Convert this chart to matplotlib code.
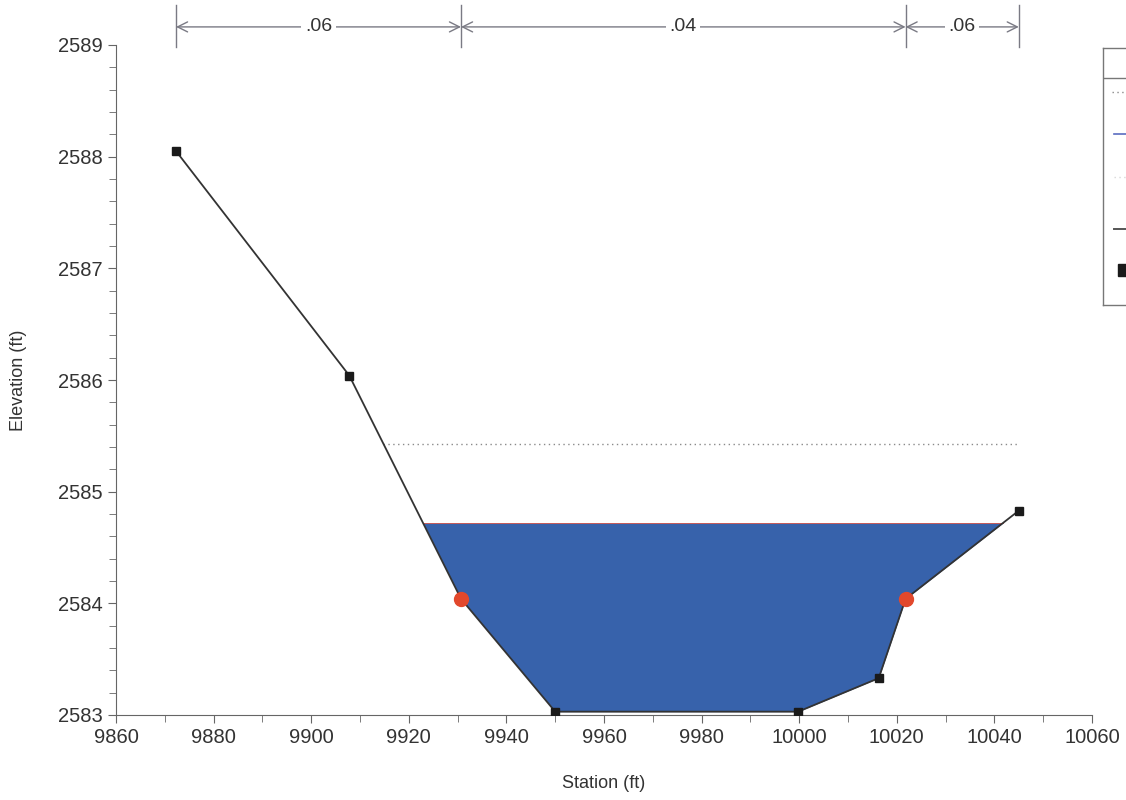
#!/usr/bin/env python3
"""Cross section plot: ground profile, water surface, energy grade and n-value regions."""

import numpy as np
import matplotlib
matplotlib.use("Agg")
import matplotlib.pyplot as plt
from matplotlib.ticker import MultipleLocator
import matplotlib.transforms as mtransforms

plt.rcParams["font.family"] = ["Liberation Sans", "DejaVu Sans"]

# ground profile (station ft, elevation ft)
STATION = [9872.3, 9907.8, 9930.7, 9950.0, 9999.8, 10016.3, 10021.8, 10045.0]
ELEV = [2588.05, 2586.04, 2584.04, 2583.03, 2583.03, 2583.33, 2584.04, 2584.83]
BANK_STA = [9930.7, 10021.8]
BANK_ELEV = [2584.04, 2584.04]

WS_ELEV = 2584.72
EG_ELEV = 2585.43
EG_STA = [9914.7, 10045.0]

# Manning's n regions
N_BOUNDS = [9872.3, 9930.7, 10021.8, 10045.0]
N_VALUES = [".06", ".04", ".06"]

GROUND_C = "#333333"
WATER_C = "#3762ab"
BANK_C = "#e2482c"
DIM_C = "#7a7a84"

fig = plt.figure(figsize=(11.26, 8.0), dpi=100)
ax = fig.add_axes([116 / 1126, 1 - 715 / 800, 976 / 1126, 670 / 800])

sta = np.array(STATION)
elev = np.array(ELEV)
ax.fill_between(sta, elev, WS_ELEV, where=elev <= WS_ELEV, interpolate=True,
                color=WATER_C, linewidth=0, zorder=1)

# thin water surface edge
ws_lo = np.interp(WS_ELEV, elev[1:3][::-1], sta[1:3][::-1])
ws_hi = np.interp(WS_ELEV, elev[6:8], sta[6:8])
ax.plot([ws_lo, ws_hi], [WS_ELEV, WS_ELEV], color="#c45a5a", lw=0.7, zorder=2)

ax.plot(EG_STA, [EG_ELEV, EG_ELEV], color="#8a8a8a", lw=1.0,
        linestyle=(0, (1, 2.5)), zorder=2)

ax.plot(sta, elev, color=GROUND_C, lw=1.3, zorder=3)
sq = [s not in BANK_STA for s in STATION]
ax.plot(sta[sq], elev[sq], linestyle="None", marker="s", markersize=6,
        color="#1a1a1a", zorder=4)
ax.plot(BANK_STA, BANK_ELEV, linestyle="None", marker="o", markersize=10,
        color=BANK_C, zorder=5)

ax.set_xlim(9860, 10060)
ax.set_ylim(2583, 2589)
ax.xaxis.set_major_locator(MultipleLocator(20))
ax.xaxis.set_minor_locator(MultipleLocator(10))
ax.yaxis.set_major_locator(MultipleLocator(1))
ax.yaxis.set_minor_locator(MultipleLocator(0.2))
ax.tick_params(which="both", direction="out", color="#666666", labelsize=14.5,
               labelcolor="#333333")
ax.tick_params(which="major", length=6)
ax.tick_params(which="minor", length=5)
for side in ("top", "right"):
    ax.spines[side].set_visible(False)
for side in ("left", "bottom"):
    ax.spines[side].set_color("#666666")
ax.set_xlabel("Station (ft)", fontsize=13, color="#333333", labelpad=20)
ax.set_ylabel("Elevation (ft)", fontsize=13, color="#333333", labelpad=22)

# n-value dimension bars above the plot
trans = mtransforms.blended_transform_factory(ax.transData, ax.transAxes)
y_arrow = 1.027
for b in N_BOUNDS:
    ax.plot([b, b], [0.997, 1.06], color=DIM_C, lw=1.0, transform=trans,
            clip_on=False)
for lo, hi, label in zip(N_BOUNDS[:-1], N_BOUNDS[1:], N_VALUES):
    mid = 0.5 * (lo + hi)
    for end in (lo, hi):
        ax.annotate("", xy=(end, y_arrow), xytext=(mid, y_arrow),
                    xycoords=trans, textcoords=trans,
                    arrowprops=dict(arrowstyle="->", color=DIM_C, lw=1.0,
                                    shrinkA=0, shrinkB=0,
                                    mutation_scale=18))
    ax.text(mid, y_arrow, label, transform=trans, ha="center", va="center",
            fontsize=14, color="#333333",
            bbox=dict(facecolor="white", edgecolor="none", pad=2.5))

# legend box, running off the right edge of the figure
lg = fig.add_axes([1103 / 1126, 1 - 305 / 800, 0.2, 257 / 800])
lg.set_xlim(1103, 1328)
lg.set_ylim(305, 48)
lg.set_xticks([])
lg.set_yticks([])
for s in lg.spines.values():
    s.set_color("#777777")
    s.set_linewidth(1.0)
lg.plot([1103, 1328], [78, 78], color="#777777", lw=1.0)
lg.plot([1112, 1140], [92, 92], color="#8a8a8a", lw=1.0, linestyle=(0, (1, 2.5)))
lg.plot([1114, 1140], [134, 134], color="#5a6cc0", lw=1.2)
lg.plot([1114, 1140], [177, 177], color="#d8d8d8", lw=1.0, linestyle=(0, (1, 2.5)))
lg.plot([1114, 1140], [229, 229], color="#555555", lw=1.4)
lg.plot([1124], [270], marker="s", markersize=9, color="#1a1a1a", linestyle="None")

fig.savefig("out.png", dpi=100)
